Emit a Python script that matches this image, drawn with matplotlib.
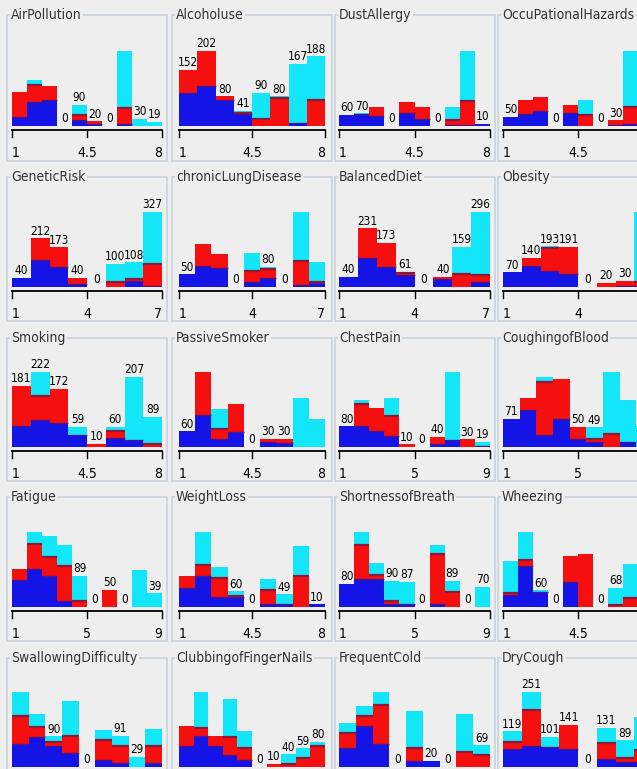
import matplotlib
matplotlib.use("Agg")
import matplotlib.pyplot as plt
from matplotlib import font_manager
from matplotlib.font_manager import FontProperties
from matplotlib.lines import Line2D
from matplotlib.patches import Rectangle

# attribute histograms, one panel per attribute, classes stacked blue/red/cyan
titles = ["AirPollution", "Alcoholuse", "DustAllergy", "OccuPationalHazards",
          "GeneticRisk", "chronicLungDisease", "BalancedDiet", "Obesity",
          "Smoking", "PassiveSmoker", "ChestPain", "CoughingofBlood",
          "Fatigue", "WeightLoss", "ShortnessofBreath", "Wheezing",
          "SwallowingDifficulty", "ClubbingofFingerNails", "FrequentCold", "DryCough"]

ranges = [(1, 8), (1, 8), (1, 8), (1, 8),
          (1, 7), (1, 7), (1, 7), (1, 7),
          (1, 8), (1, 8), (1, 9), (1, 9),
          (1, 9), (1, 8), (1, 9), (1, 8),
          (1, 8), (1, 9), (1, 7), (1, 7)]

blue = [
    [40, 104, 112, 0, 26, 10, 0, 9, 0, 0],
    [89, 109, 70, 32, 0, 0, 8, 0],
    [60, 68, 55, 0, 69, 36, 0, 3, 5, 10],
    [50, 68, 80, 0, 72, 0, 0, 5, 10, 0],
    [40, 117, 89, 15, 0, 0, 25, 5],
    [50, 82, 76, 0, 20, 37, 0, 8, 15],
    [40, 114, 79, 48, 0, 30, 0, 20],
    [70, 100, 78, 63, 0, 0, 5, 6],
    [62, 79, 72, 35, 0, 28, 20, 0],
    [60, 122, 32, 58, 0, 20, 15, 0, 0],
    [80, 80, 60, 41, 0, 0, 10, 28, 0, 4],
    [71, 92, 29, 71, 21, 12, 0, 12, 0],
    [76, 110, 88, 17, 0, 0, 0, 0, 0, 0],
    [74, 118, 38, 40, 0, 10, 10, 0, 10],
    [80, 97, 97, 11, 9, 0, 11, 0, 0, 0],
    [42, 146, 55, 0, 90, 0, 0, 0, 0, 0],
    [68, 88, 62, 41, 0, 22, 12, 0, 12],
    [66, 96, 66, 38, 21, 0, 0, 0, 0, 0],
    [59, 131, 74, 0, 18, 20, 0, 0, 0],
    [59, 70, 68, 59, 0, 26, 18, 18],
]
red = [
    [103, 72, 57, 0, 21, 10, 0, 67, 0, 0],
    [63, 93, 10, 4, 20, 75, 0, 70],
    [0, 0, 47, 0, 60, 70, 0, 30, 129, 0],
    [0, 75, 77, 0, 44, 59, 0, 25, 95, 10],
    [0, 95, 84, 25, 0, 20, 10, 95],
    [0, 89, 56, 0, 45, 33, 0, 95, 3],
    [0, 117, 94, 8, 0, 10, 50, 28],
    [0, 40, 105, 128, 0, 20, 25, 20],
    [119, 71, 100, 0, 10, 18, 0, 8],
    [0, 166, 38, 108, 0, 10, 15, 0, 0],
    [0, 88, 92, 77, 10, 0, 30, 0, 30, 0],
    [0, 32, 134, 100, 29, 8, 33, 0, 0],
    [33, 72, 56, 100, 17, 0, 50, 0, 0, 0],
    [45, 42, 74, 4, 0, 56, 0, 118, 0],
    [0, 114, 11, 9, 0, 0, 169, 50, 0, 0],
    [10, 24, 0, 0, 92, 190, 0, 8, 34, 10],
    [82, 29, 10, 49, 0, 57, 50, 0, 49],
    [62, 26, 31, 57, 38, 0, 10, 8, 28, 67],
    [48, 31, 122, 0, 41, 0, 0, 48, 38],
    [23, 121, 0, 82, 0, 55, 12, 40],
]
cyan = [
    [0, 21, 0, 0, 43, 0, 0, 243, 30, 19],
    [0, 0, 0, 5, 70, 5, 159, 118],
    [0, 2, 0, 0, 0, 0, 0, 69, 276, 0],
    [0, 0, 0, 0, 0, 81, 0, 0, 303, 15],
    [0, 0, 0, 0, 0, 80, 73, 227],
    [0, 0, 0, 0, 71, 10, 0, 194, 82],
    [0, 0, 0, 5, 0, 0, 109, 248],
    [0, 0, 10, 0, 0, 0, 0, 330],
    [0, 72, 0, 24, 0, 14, 187, 81],
    [0, 0, 77, 0, 0, 0, 0, 189, 109],
    [0, 12, 0, 73, 0, 0, 0, 262, 0, 15],
    [0, 0, 12, 0, 0, 29, 155, 107, 53],
    [0, 33, 60, 60, 72, 0, 0, 0, 107, 39],
    [0, 128, 43, 16, 0, 42, 39, 115, 0],
    [0, 46, 43, 70, 78, 0, 33, 39, 0, 70],
    [112, 100, 5, 0, 0, 0, 0, 60, 120, 20],
    [70, 39, 18, 103, 0, 29, 29, 29, 51],
    [0, 114, 0, 120, 55, 0, 0, 32, 31, 13],
    [34, 31, 43, 0, 118, 0, 0, 120, 31],
    [37, 60, 33, 0, 0, 50, 59, 110],
]

# which bins get a count label (1-based)
labelled = [
    [4, 5, 6, 7, 9, 10], [1, 2, 3, 4, 5, 6, 7, 8], [1, 2, 4, 7, 10], [1, 4, 7, 8],
    [1, 2, 3, 4, 5, 6, 7, 8], [1, 4, 6, 7], [1, 2, 3, 4, 5, 6, 7, 8], [1, 2, 3, 4, 5, 6, 7],
    [1, 2, 3, 4, 5, 6, 7, 8], [1, 5, 6, 7], [1, 5, 6, 7, 9, 10], [1, 5, 6],
    [5, 6, 7, 8, 10], [4, 5, 7, 9], [1, 4, 5, 6, 8, 9, 10], [3, 4, 7, 8],
    [3, 5, 7, 8], [6, 7, 8, 9, 10], [4, 6, 7, 9], [1, 2, 3, 4, 5, 6, 7],
]

colors = ["#1414E6", "#F50F0F", "#14E6FA"]
seam = "#8E1838"
bg = "#EEEEEE"
border = "#C9D2DB"


# look for a narrow face, the screenshot text is squeezed
def pick_font():
    good = []
    for f in font_manager.fontManager.ttflist:
        narrow = ("Narrow" in f.name or "Condensed" in f.name
                  or f.stretch in ("condensed", "semi-condensed", "extra-condensed"))
        if narrow and f.style == "normal" and f.weight in (400, "normal", "regular", "book"):
            good.append(f)
    if good:
        good.sort(key=lambda f: ("DejaVu" not in f.name, f.name))
        return good[0].fname, True
    return None, False


fname, is_narrow = pick_font()


def fp(size):
    if is_narrow:
        return FontProperties(fname=fname, size=size)
    return FontProperties(family="DejaVu Sans", size=size * 0.78)


W, H = 637, 769
fig = plt.figure(figsize=(W / 100, H / 100), dpi=100, facecolor=bg)


def fx(x):
    return x / W


def fy(y):
    return 1 - y / H


# layout in pixels (top-left origin)
col_bar_x = [12, 179, 339, 503]
col_bar_w = [150, 146, 151, 150]
col_box = [(7, 167), (172, 332), (335, 495), (498, 662)]
row_base = [126, 287, 447, 607, 767]
row_title = [15, 177, 338, 497, 658]
row_box_bottom = [161, 321, 481, 641, 810]
bar_h = 75

for k, title in enumerate(titles):
    r, c = divmod(k, 4)
    x0, w = col_bar_x[c], col_bar_w[c]
    base = row_base[r]

    # titled border
    bl, br = col_box[c]
    fig.add_artist(Rectangle((fx(bl), fy(row_box_bottom[r])), fx(br - bl),
                             (row_box_bottom[r] - row_title[r]) / H,
                             transform=fig.transFigure, facecolor="none",
                             edgecolor=border, lw=1.2))
    fig.text(fx(bl + 4), fy(row_title[r]), title, fontproperties=fp(10),
             color="#333333", va="center", ha="left",
             bbox=dict(facecolor=bg, edgecolor="none", pad=1))

    # bars
    ax = fig.add_axes([fx(x0), fy(base), w / W, bar_h / H])
    ax.set_facecolor("none")
    b, rd, cy = blue[k], red[k], cyan[k]
    n = len(b)
    totals = [b[i] + rd[i] + cy[i] for i in range(n)]
    xs = list(range(n))
    ax.bar(xs, b, width=1, align="edge", color=colors[0], lw=0)
    ax.bar(xs, rd, width=1, align="edge", bottom=b, color=colors[1], lw=0)
    ax.bar(xs, cy, width=1, align="edge", bottom=[b[i] + rd[i] for i in range(n)],
           color=colors[2], lw=0)
    # darker seams where two classes meet
    for i in range(n):
        if rd[i] and cy[i]:
            ax.hlines(b[i] + rd[i], i, i + 1, color=seam, lw=1.6)
        if b[i] and (rd[i] or cy[i]):
            ax.hlines(b[i], i, i + 1, color="#5A1478", lw=1.0, alpha=0.8)
    ax.set_xlim(0, n)
    ax.set_ylim(0, max(totals))
    ax.axis("off")
    for i in labelled[k]:
        xc = x0 + (i - 0.5) * w / n
        if xc > W - 8:
            continue
        ax.annotate(str(totals[i - 1]), (i - 0.5, totals[i - 1]), xytext=(0, 0.5),
                    textcoords="offset points", ha="center", va="bottom",
                    fontproperties=fp(8.5), color="black")

    # axis with three ticks
    ya = base + 4
    if ya < H:
        fig.add_artist(Line2D([fx(x0), fx(x0 + w)], [fy(ya), fy(ya)],
                              transform=fig.transFigure, color="black", lw=1.3))
        lo, hi = ranges[k]
        mid = (lo + hi) / 2
        mid_s = str(int(mid)) if mid == int(mid) else str(mid)
        for tx, lab, ha in [(x0, str(lo), "left"), (x0 + w / 2, mid_s, "center"),
                            (x0 + w, str(hi), "right")]:
            fig.add_artist(Line2D([fx(tx), fx(tx)], [fy(ya), fy(ya + 7)],
                                  transform=fig.transFigure, color="black", lw=1))
            if tx < W - 4:
                fig.text(fx(tx), fy(base + 27), lab, fontproperties=fp(10),
                         ha=ha, va="center", color="black")

fig.savefig("out.png", dpi=100, facecolor=bg)
